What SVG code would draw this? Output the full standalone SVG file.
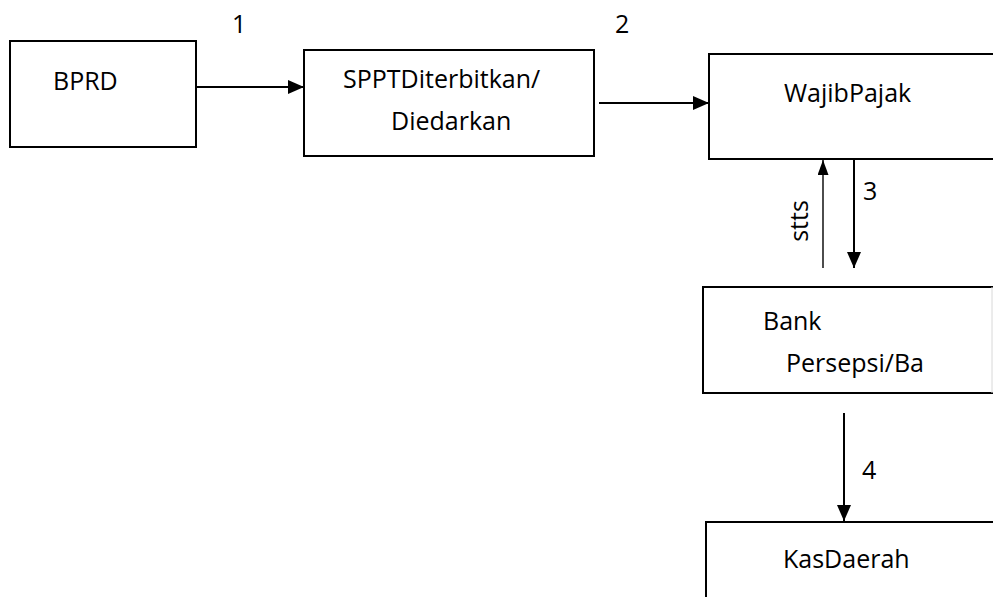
<svg xmlns="http://www.w3.org/2000/svg" width="993" height="597" viewBox="0 0 993 597">
  <style>
    .box { fill: #ffffff; stroke: #000000; stroke-width: 2; }
    .lbl { font-family: "Open Sans", "Noto Sans", sans-serif; font-size: 25px; fill: #000000; }
    .num { font-family: "Open Sans", "Noto Sans", sans-serif; font-size: 25px; fill: #000000; }
    .edge { stroke: #000000; stroke-width: 2; fill: none; }
    .thin { stroke: #000000; stroke-width: 1.4; fill: none; }
  </style>
  <defs>
    <marker id="head" viewBox="0 0 16 14" refX="16" refY="7" markerWidth="16" markerHeight="14" markerUnits="userSpaceOnUse" orient="auto">
      <path d="M0,0 L16,7 L0,14 Z" fill="#000000"/>
    </marker>
    <marker id="headSmall" viewBox="0 0 15 11" refX="15" refY="5.5" markerWidth="15" markerHeight="11" markerUnits="userSpaceOnUse" orient="auto">
      <path d="M0,0 L15,5.5 L0,11 Z" fill="#000000"/>
    </marker>
  </defs>
  <rect width="993" height="597" fill="#ffffff"/>

  <g id="bprd">
    <rect class="box" x="10" y="41" width="186" height="106" stroke-width="1.6"/>
    <text class="lbl" x="53" y="90">BPRD</text>
  </g>

  <g id="sppt">
    <rect class="box" x="304" y="50" width="290" height="106"/>
    <text class="lbl" x="343" y="88">SPPTDiterbitkan/</text>
    <text class="lbl" x="391" y="130">Diedarkan</text>
  </g>

  <g id="wajib-pajak">
    <rect class="box" x="709" y="54" width="300" height="105"/>
    <text class="lbl" x="784" y="102">WajibPajak</text>
  </g>

  <g id="bank">
    <rect class="box" x="703" y="287" width="300" height="106"/>
    <line x1="992" y1="287" x2="992" y2="393" stroke="#d8d8d8" stroke-width="1"/>
    <text class="lbl" x="763" y="330">Bank</text>
    <text class="lbl" x="786" y="372">Persepsi/Ba</text>
  </g>

  <g id="kas-daerah">
    <rect class="box" x="706" y="522" width="300" height="100"/>
    <text class="lbl" x="783" y="568">KasDaerah</text>
  </g>

  <g id="connectors">
    <line class="edge" x1="196" y1="87" x2="304" y2="87" marker-end="url(#head)"/>
    <line class="edge" x1="599" y1="103" x2="709" y2="103" marker-end="url(#head)"/>
    <line class="thin" x1="823" y1="268" x2="823" y2="160" marker-end="url(#headSmall)"/>
    <line class="edge" x1="854" y1="159" x2="854" y2="268" marker-end="url(#head)"/>
    <line class="edge" x1="844" y1="413" x2="844" y2="521" marker-end="url(#head)"/>
    <text class="num" x="232" y="33">1</text>
    <text class="num" x="615" y="33">2</text>
    <text class="num" x="863" y="200">3</text>
    <text class="num" x="862" y="479">4</text>
    <text class="num" transform="translate(808,221) rotate(-90)" text-anchor="middle">stts</text>
  </g>
</svg>
